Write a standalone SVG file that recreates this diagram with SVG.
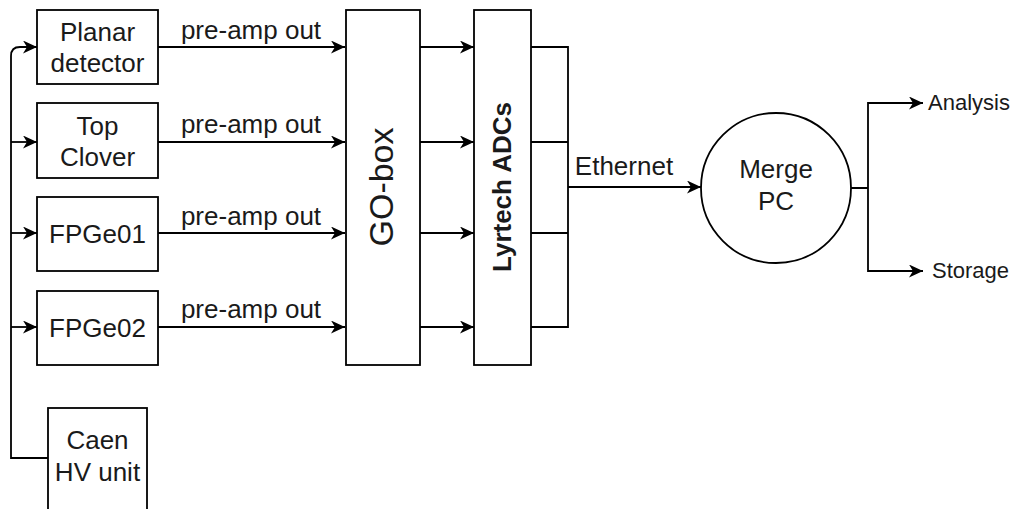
<svg xmlns="http://www.w3.org/2000/svg" width="1016" height="509" viewBox="0 0 1016 509">
<defs>
<marker id="arr" markerUnits="userSpaceOnUse" markerWidth="15" markerHeight="13" refX="14" refY="6.5" orient="auto" viewBox="0 0 15 13">
<path d="M0,0 L14,6.5 L0,13 L4,6.5 Z" fill="#000"/>
</marker>
<style>
.box{fill:#fff;stroke:#000;stroke-width:1.8}
.ln{fill:none;stroke:#000;stroke-width:1.8}
.t{font-family:"Liberation Sans",Arial,sans-serif;font-size:26px;fill:#1a1a1a;text-anchor:middle}
.s{font-family:"Liberation Sans",Arial,sans-serif;font-size:22px;fill:#1a1a1a}
</style>
</defs>
<rect width="1016" height="509" fill="#fff"/>
<g id="connectors">
<path class="ln" d="M48,458 L11,458 L11,56 Q11,47 20,47 L37,47" marker-end="url(#arr)"/>
<path class="ln" d="M11,142 L37,142" marker-end="url(#arr)"/>
<path class="ln" d="M11,233 L37,233" marker-end="url(#arr)"/>
<path class="ln" d="M11,327 L37,327" marker-end="url(#arr)"/>
<path class="ln" d="M158,47 L345,47" marker-end="url(#arr)"/>
<path class="ln" d="M158,142 L345,142" marker-end="url(#arr)"/>
<path class="ln" d="M158,233 L345,233" marker-end="url(#arr)"/>
<path class="ln" d="M158,327 L345,327" marker-end="url(#arr)"/>
<text class="t" x="251" y="39">pre-amp out</text>
<text class="t" x="251" y="133">pre-amp out</text>
<text class="t" x="251" y="225">pre-amp out</text>
<text class="t" x="251" y="318">pre-amp out</text>
<path class="ln" d="M420,47 L474,47" marker-end="url(#arr)"/>
<path class="ln" d="M420,142 L474,142" marker-end="url(#arr)"/>
<path class="ln" d="M420,233 L474,233" marker-end="url(#arr)"/>
<path class="ln" d="M420,327 L474,327" marker-end="url(#arr)"/>
<path class="ln" d="M531,47 L568,47 L568,327 L531,327 M531,142 L568,142 M531,233 L568,233"/>
<path class="ln" d="M568,187 L701,187" marker-end="url(#arr)"/>
<text class="t" x="624" y="175">Ethernet</text>
<path class="ln" d="M851,188 L868,188 M868,188 L868,103 L923,103" marker-end="url(#arr)"/>
<path class="ln" d="M868,188 L868,271 L923,271" marker-end="url(#arr)"/>
<text class="s" x="928" y="110">Analysis</text>
<text class="s" x="932" y="278">Storage</text>
</g>
<g id="planar">
<rect class="box" x="37" y="10" width="121" height="74"/>
<text class="t" x="97.5" y="41">Planar</text>
<text class="t" x="97.5" y="72">detector</text>
</g>
<g id="topclover">
<rect class="box" x="37" y="103" width="121" height="75"/>
<text class="t" x="97.5" y="135">Top</text>
<text class="t" x="97.5" y="166">Clover</text>
</g>
<g id="fpge01">
<rect class="box" x="37" y="197" width="121" height="74"/>
<text class="t" x="97.5" y="243">FPGe01</text>
</g>
<g id="fpge02">
<rect class="box" x="37" y="291" width="121" height="74"/>
<text class="t" x="97.5" y="337">FPGe02</text>
</g>
<g id="caen">
<rect class="box" x="48" y="408" width="99" height="120"/>
<text class="t" x="97.5" y="449">Caen</text>
<text class="t" x="97.5" y="481">HV unit</text>
</g>
<g id="gobox">
<rect class="box" x="346" y="10" width="74" height="355"/>
<text class="t" x="0" y="0" style="font-size:34px" transform="translate(393,187) rotate(-90)">GO-box</text>
</g>
<g id="lyrtech">
<rect class="box" x="474" y="10" width="57" height="355"/>
<text class="t" x="0" y="0" style="font-weight:bold" transform="translate(511,187) rotate(-90)">Lyrtech ADCs</text>
</g>
<g id="mergepc">
<circle class="box" cx="776" cy="188" r="75"/>
<text class="t" x="776" y="178">Merge</text>
<text class="t" x="776" y="210">PC</text>
</g>
</svg>
